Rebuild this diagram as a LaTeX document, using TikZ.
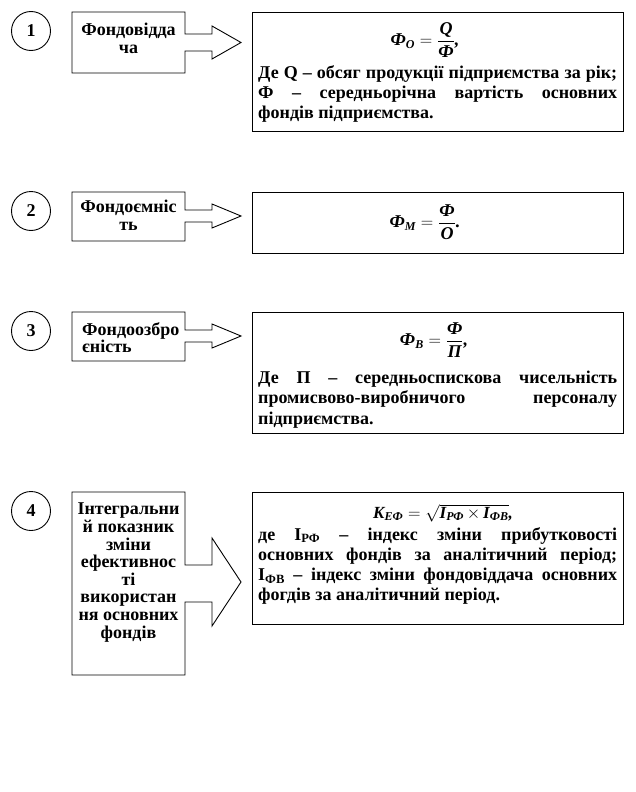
\documentclass[tikz,border=0pt]{standalone}
\usepackage{fontspec}
\setmainfont{Liberation Serif}
\usepackage{amsmath}
\usetikzlibrary{calc}
\newcommand\fsub[1]{\mbox{\fontsize{12}{12}\selectfont\bfseries\itshape #1}}
\tikzset{
  outl/.style={draw=black, line width=0.9pt, line join=miter},
  numcirc/.style={circle, draw=black, line width=0.9pt, minimum size=39pt, inner sep=0pt, font=\fontsize{18}{18}\selectfont\bfseries},
  ltext/.style={anchor=north, align=center, inner sep=0pt, font=\fontsize{18}{17.6}\selectfont\bfseries},
  rbox/.style={draw=black, line width=0.9pt, anchor=north west, minimum width=371pt, inner sep=0pt},
  rtext/.style={anchor=north west, inner sep=0pt, text width=359pt, align=justify, font=\fontsize{18}{20.3}\selectfont\bfseries},
  formula/.style={inner sep=0pt, font=\fontsize{18}{18}\selectfont\bfseries\itshape},
}
\begin{document}
\begin{tikzpicture}[x=1pt, y=-1pt]
\useasboundingbox (0,0) rectangle (636,792);

% ---------- row 1 ----------
\node[numcirc] (c1) at (31,31) {1};
\draw[outl] (72,12) -- (185,12) -- (185,34) -- (212,34) -- (212,26) -- (241,42.5) -- (212,59) -- (212,51) -- (185,51) -- (185,73) -- (72,73) -- cycle;
\node[ltext] (l1) at (128.5,23) {Фондовідда\\ча};
\node[rbox, minimum height=119pt] (r1) at (252,12) {};
\node[formula] (f1) at (425,40) {$\mbox{Ф}_{\fsub{О}}=\dfrac{\mbox{Q}}{\mbox{Ф}}$,};
\node[rtext] (d1) at (258,65) {Де Q – обсяг продукції підприємства за рік;\linebreak Ф – середньорічна вартість основних\linebreak фондів підприємства.};

% ---------- row 2 ----------
\node[numcirc] (c2) at (31,211) {2};
\draw[outl] (72,192) -- (185,192) -- (185,210) -- (212,210) -- (212,204) -- (241,216) -- (212,228) -- (212,222) -- (185,222) -- (185,241) -- (72,241) -- cycle;
\node[ltext] (l2) at (128.5,200) {Фондоємніс\\ть};
\node[rbox, minimum height=61pt] (r2) at (252,192) {};
\node[formula] (f2) at (425,222) {$\mbox{Ф}_{\fsub{М}}=\dfrac{\mbox{Ф}}{\mbox{О}}$.};

% ---------- row 3 ----------
\node[numcirc] (c3) at (31,331) {3};
\draw[outl] (72,312) -- (185,312) -- (185,330) -- (212,330) -- (212,324) -- (241,336) -- (212,348) -- (212,342) -- (185,342) -- (185,361) -- (72,361) -- cycle;
\node[ltext, anchor=north west, align=left] (l3) at (82,322) {Фондоозбро\\єність};
\node[rbox, minimum height=121pt] (r3) at (252,312) {};
\node[formula] (f3) at (434,340) {$\mbox{Ф}_{\fsub{В}}=\dfrac{\mbox{Ф}}{\mbox{П}}$,};
\node[rtext] (d3) at (258,371) {Де П – середньоспискова чисельність\linebreak промисвово-виробничого персоналу\linebreak підприємства.};

% ---------- row 4 ----------
\node[numcirc] (c4) at (31,511) {4};
\draw[outl] (72,492) -- (185,492) -- (185,565) -- (212,565) -- (212,538) -- (241,582) -- (212,626) -- (212,602) -- (185,602) -- (185,675) -- (72,675) -- cycle;
\node[ltext] (l4) at (128.5,503) {Інтегральни\\й показник\\зміни\\ефективнос\\ті\\використан\\ня основних\\фондів};
\node[rbox, minimum height=132pt] (r4) at (252,492) {};
\node[formula, font=\fontsize{17}{17}\selectfont\bfseries\itshape] (f4) at (443,513) {$\mbox{K}_{\fsub{ЕФ}}=\sqrt{\mbox{I}_{\fsub{РФ}}\,{\times}\,\mbox{I}_{\fsub{ФВ}}}$,};
\node[rtext] (d4) at (258,527) {де І\textsubscript{РФ} – індекс зміни прибутковості\linebreak основних фондів за аналітичний період;\linebreak І\textsubscript{ФВ} – індекс зміни фондовіддача основних\linebreak фогдів за аналітичний період.};
\end{tikzpicture}
\end{document}
